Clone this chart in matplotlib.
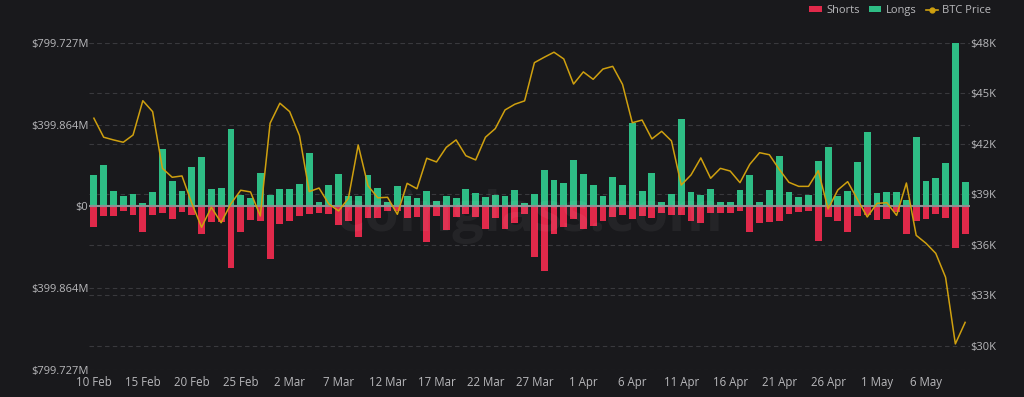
import matplotlib
matplotlib.use("Agg")
import matplotlib.pyplot as plt
import matplotlib.transforms as mtransforms
from matplotlib.patches import Patch
from matplotlib.lines import Line2D
from matplotlib.ticker import FixedLocator, FuncFormatter
import pandas as pd

plt.rcParams['font.family'] = ['Open Sans', 'DejaVu Sans']

dates = pd.date_range('2022-02-10', '2022-05-10', freq='D')
date_labels = [f"{d.day} {d.strftime('%b')}" for d in dates]

longs = [155, 205, 74, 49, 60, 16, 70, 280, 126, 74,
         191, 244, 85, 92, 378, 54, 43, 165, 56, 85,
         85, 111, 262, 23, 103, 159, 51, 51, 152, 92,
         23, 98, 52, 43, 77, 25, 49, 43, 87, 65,
         44, 57, 49, 83, 15, 60, 178, 131, 114, 226,
         159, 103, 52, 146, 106, 406, 77, 163, 23, 59,
         427, 72, 57, 87, 23, 20, 82, 155, 23, 82,
         247, 70, 44, 57, 224, 289, 52, 74, 217, 365,
         65, 70, 70, 34, 340, 126, 139, 214, 799.7, 121]

shorts = [98, 49, 47, 23, 44, 123, 42, 33, 60, 28,
          41, 137, 78, 77, 303, 123, 65, 69, 257, 88,
          69, 49, 39, 31, 38, 90, 69, 150, 56, 57,
          23, 20, 57, 52, 175, 48, 114, 52, 39, 52,
          110, 54, 110, 82, 36, 245, 314, 137, 98, 60,
          110, 95, 69, 52, 43, 62, 48, 57, 31, 41,
          44, 70, 82, 31, 33, 33, 21, 123, 80, 75,
          70, 38, 28, 23, 167, 52, 69, 126, 49, 41,
          65, 60, 28, 137, 69, 60, 36, 57, 203, 136]

btc_price_k = [43.53, 42.40, 42.24, 42.10, 42.53, 44.57, 43.92, 40.55, 40.02, 40.10,
               38.48, 37.05, 38.24, 37.32, 38.45, 39.25, 39.15, 37.72, 43.23, 44.42,
               43.92, 42.50, 39.17, 39.38, 38.43, 38.02, 38.77, 41.94, 39.52, 38.80,
               38.83, 37.82, 39.66, 39.34, 41.15, 40.93, 41.80, 42.24, 41.30, 41.05,
               42.40, 42.91, 44.02, 44.36, 44.56, 46.83, 47.15, 47.45, 47.05, 45.56,
               46.28, 45.84, 46.45, 46.61, 45.54, 43.26, 43.42, 42.30, 42.75, 42.18,
               39.56, 40.16, 41.17, 39.96, 40.55, 40.39, 39.70, 40.79, 41.48, 41.36,
               40.50, 39.72, 39.48, 39.48, 40.41, 38.14, 39.27, 39.76, 38.71, 37.66,
               38.47, 38.51, 37.76, 39.68, 36.57, 36.10, 35.50, 34.08, 30.12, 31.40]

left_ticks = [-799.727, -399.864, 0, 399.864, 799.727]
right_ticks = [30, 33, 36, 39, 42, 45, 48]

BG = '#19191c'
GREEN = '#2ebd85'
RED = '#e0294a'
GOLD = '#cfa00f'
TXT = '#b8b8bb'
GRID = '#39393d'

fig = plt.figure(figsize=(10.24, 3.97), dpi=100, facecolor=BG)
ax = fig.add_axes([0.0869, 0.068, 0.8604, 0.8238])
ax.set_facecolor(BG)
ax2 = ax.twinx()

x = list(range(len(dates)))
ax.bar(x, longs, width=0.7, color=GREEN, zorder=2)
ax.bar(x, [-s for s in shorts], width=0.7, color=RED, zorder=2)
ax.axhline(0, color='#8e8e92', lw=1.5, zorder=3)

ax.set_xlim(-0.5, len(dates) - 0.5)
ax.set_ylim(-799.727, 799.727)
ax2.set_ylim(28.57, 48.0)

# left grid
for v in left_ticks:
    if v != 0:
        ax.axhline(v, color=GRID, lw=0.8, ls=(0, (4, 3)), zorder=0.5)
# right grid drawn under the bars
blend = mtransforms.blended_transform_factory(ax.transAxes, ax2.transData)
for v in right_ticks:
    ax.plot([0, 1], [v, v], transform=blend, color=GRID, lw=0.8,
            ls=(0, (4, 3)), zorder=0.5)

ax2.plot(x, btc_price_k, color=GOLD, lw=1.1, zorder=5)

ax.yaxis.set_major_locator(FixedLocator(left_ticks))
ax.yaxis.set_major_formatter(FuncFormatter(
    lambda v, p: "$0" if abs(v) < 1e-6 else f"${abs(v):.3f}M"))
ax2.yaxis.set_major_locator(FixedLocator(right_ticks))
ax2.yaxis.set_major_formatter(FuncFormatter(lambda v, p: f"${v:.0f}K"))

xt = list(range(0, len(dates), 5))
ax.set_xticks(xt)
ax.set_xticklabels([date_labels[i] for i in xt])

for a in (ax, ax2):
    for s in a.spines.values():
        s.set_visible(False)
    a.tick_params(length=0, colors=TXT, labelsize=8)
ax.tick_params(axis='x', pad=4, labelsize=8.3)
ax.tick_params(axis='y', pad=0.5)
ax2.tick_params(axis='y', pad=0.5)

# watermark
ax.text(0.5, 0.47, "coinglass.com", transform=ax.transAxes, ha='center',
        va='center', fontsize=40, color='white', alpha=0.05, zorder=10,
        fontweight='bold')

handles = [Patch(facecolor=RED, edgecolor='none'),
           Patch(facecolor=GREEN, edgecolor='none'),
           Line2D([0], [0], color=GOLD, lw=1.2, marker='o', markersize=3.5)]
leg = fig.legend(handles, ['Shorts', 'Longs', 'BTC Price'], loc='upper right',
                 bbox_to_anchor=(0.978, 1.012), ncol=3, frameon=False,
                 fontsize=8, handlelength=1.1, handleheight=0.5,
                 columnspacing=0.85, handletextpad=0.4, labelcolor=TXT)

fig.savefig('out.png', dpi=100, facecolor=BG)
